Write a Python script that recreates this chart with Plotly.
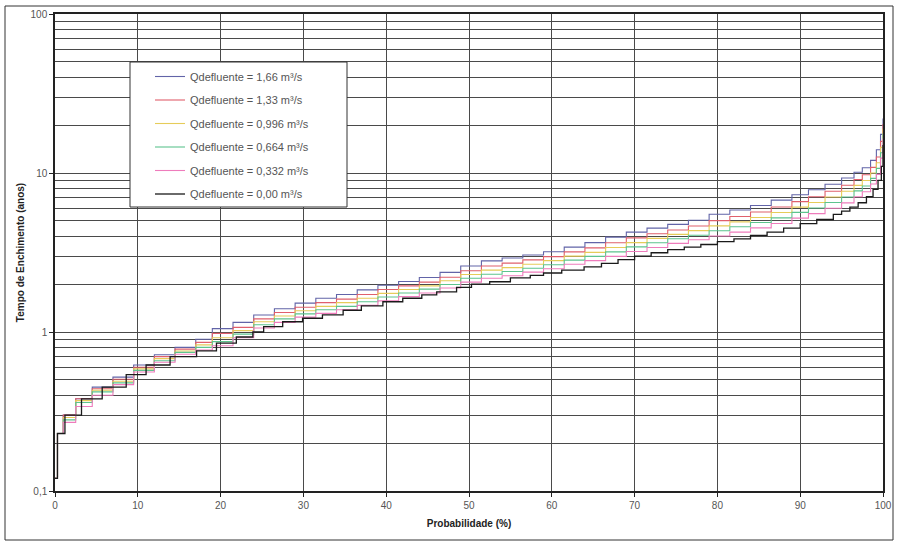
import plotly.graph_objects as go

# Probability of exceedance (%) for the discharge series
prob_q = [0, 0.3, 1, 2.5, 4.5, 7, 9.5, 12, 14.5, 17, 19, 21.5, 24, 26.5, 29, 31.5,
          34, 36.5, 39, 41.5, 44, 46.5, 49, 51.5, 54, 56.5, 59, 61.5, 64, 66.5, 69,
          71.5, 74, 76.5, 79, 81.5, 84, 86.5, 89, 91, 93, 95, 96.5, 97.5, 98.5,
          99.2, 99.7, 100]

# Filling time (years) for each outflow
t_166 = [0.12, 0.23, 0.30, 0.38, 0.45, 0.52, 0.62, 0.72, 0.80, 0.90, 1.05, 1.15, 1.28,
         1.40, 1.52, 1.63, 1.72, 1.84, 1.97, 2.08, 2.20, 2.37, 2.60, 2.80, 2.92, 3.05,
         3.20, 3.42, 3.65, 3.95, 4.25, 4.50, 4.75, 5.05, 5.50, 5.85, 6.25, 6.75, 7.30,
         7.85, 8.50, 9.30, 10.1, 10.8, 12.0, 14.0, 17.5, 22.0]
t_133 = [0.12, 0.23, 0.30, 0.38, 0.44, 0.504, 0.60, 0.70, 0.78, 0.86, 0.98, 1.07, 1.21,
         1.325, 1.43, 1.53, 1.61, 1.72, 1.85, 1.95, 2.06, 2.21, 2.43, 2.60, 2.71, 2.84,
         2.98, 3.19, 3.38, 3.64, 3.91, 4.15, 4.38, 4.64, 5.02, 5.33, 5.68, 6.11, 6.61,
         7.09, 7.67, 8.37, 9.10, 9.75, 10.85, 12.6, 15.8, 20.3]
t_0996 = [0.12, 0.23, 0.29, 0.37, 0.43, 0.49, 0.586, 0.68, 0.76, 0.83, 0.92, 1.02, 1.16,
          1.26, 1.36, 1.45, 1.53, 1.63, 1.75, 1.85, 1.95, 2.10, 2.30, 2.45, 2.54, 2.67,
          2.81, 3.00, 3.17, 3.40, 3.65, 3.88, 4.11, 4.34, 4.65, 4.93, 5.25, 5.64, 6.10,
          6.53, 7.06, 7.68, 8.36, 8.98, 9.99, 11.6, 14.5, 19.0]
t_0664 = [0.12, 0.23, 0.28, 0.36, 0.42, 0.479, 0.574, 0.66, 0.745, 0.80, 0.87, 0.97, 1.11,
          1.21, 1.30, 1.38, 1.45, 1.55, 1.66, 1.76, 1.86, 1.99, 2.18, 2.31, 2.40, 2.52,
          2.65, 2.83, 2.99, 3.19, 3.43, 3.64, 3.86, 4.06, 4.33, 4.59, 4.88, 5.22, 5.65,
          6.03, 6.52, 7.07, 7.72, 8.29, 9.25, 10.7, 13.4, 17.7]
t_0332 = [0.12, 0.23, 0.27, 0.34, 0.40, 0.467, 0.56, 0.645, 0.725, 0.77, 0.82, 0.92, 1.06,
          1.15, 1.24, 1.31, 1.38, 1.47, 1.57, 1.67, 1.76, 1.89, 2.06, 2.18, 2.26, 2.38,
          2.50, 2.67, 2.81, 2.99, 3.21, 3.40, 3.61, 3.80, 4.02, 4.25, 4.52, 4.81, 5.20,
          5.55, 6.00, 6.49, 7.09, 7.63, 8.52, 9.8, 12.4, 16.5]

# Zero outflow series has its own step positions
prob_0 = [0, 0.3, 1.2, 3.2, 5.7, 8.6, 11, 13.9, 17.1, 19.5, 21.9, 23.9, 25.2, 27.5, 29.9,
          32.3, 34.8, 37, 39.6, 42, 44.3, 46.1, 48.5, 50.3, 52.5, 55, 57.4, 59, 61.2,
          63.9, 66, 68, 70, 72, 74, 76, 78, 80, 82, 84, 86, 88, 90, 92, 94, 95, 96, 97,
          98, 98.8, 99.4, 99.8, 100]
t_000 = [0.12, 0.23, 0.30, 0.38, 0.45, 0.54, 0.62, 0.70, 0.76, 0.85, 0.93, 1.0, 1.08,
         1.16, 1.22, 1.28, 1.37, 1.46, 1.55, 1.63, 1.71, 1.79, 1.91, 2.0, 2.07, 2.19,
         2.27, 2.35, 2.45, 2.57, 2.7, 2.85, 3.0, 3.15, 3.3, 3.42, 3.55, 3.7, 3.85, 4.05,
         4.25, 4.5, 4.8, 5.1, 5.5, 5.75, 6.1, 6.5, 7.1, 7.9, 9.0, 11.0, 15.0]

names = ["Qdefluente = 1,66 m³/s", "Qdefluente = 1,33 m³/s", "Qdefluente = 0,996 m³/s",
         "Qdefluente = 0,664 m³/s", "Qdefluente = 0,332 m³/s", "Qdefluente = 0,00 m³/s"]
colors = ["#6264a8", "#e0606c", "#e6cc5a", "#5ec48e", "#ee7cbc", "#1a1a1a"]

x_ticks = list(range(0, 101, 10))
y_ticks = [0.1, 1, 10, 100]
y_tick_text = ["0,1", "1", "10", "100"]

series = [(prob_q, t_166), (prob_q, t_133), (prob_q, t_0996),
          (prob_q, t_0664), (prob_q, t_0332), (prob_0, t_000)]

fig = go.Figure()
for i, ((xs, ys), nm, col) in enumerate(zip(series, names, colors)):
    fig.add_trace(go.Scatter(
        x=xs, y=ys, mode="lines", name=nm, legendgroup=f"g{i}",
        line=dict(color=col, width=1.3 if i == 5 else 1.1, shape="hv"),
    ))

grid_col = "#4a4a4a"
PW, PH = 828, 477  # plot area size in px
fig.update_layout(
    width=899, height=549,
    margin=dict(l=55, r=16, t=14, b=58, autoexpand=False),
    paper_bgcolor="white", plot_bgcolor="white",
    font=dict(family="Liberation Sans, Arial, sans-serif", size=10, color="#555"),
    showlegend=True,
    legend=dict(
        x=(150 - 55) / PW, y=1 - (62 - 14) / PH, xanchor="left", yanchor="top",
        bgcolor="rgba(0,0,0,0)", borderwidth=0,
        font=dict(size=11, color="#555"),
        tracegroupgap=4.5, itemwidth=30,
    ),
    xaxis=dict(
        range=[0, 100], tickvals=x_ticks, ticktext=[str(v) for v in x_ticks],
        showgrid=True, gridcolor=grid_col, gridwidth=1,
        showline=True, linecolor="#222", linewidth=1.5, mirror=True,
        ticks="outside", ticklen=4, tickcolor="#222",
        zeroline=False, automargin=False,
        title=dict(text="<b>Probabilidade (%)</b>", font=dict(size=10, color="#222"), standoff=10),
    ),
    yaxis=dict(
        type="log", range=[-1, 2], tickvals=y_ticks, ticktext=y_tick_text,
        showgrid=True, gridcolor=grid_col, gridwidth=1,
        minor=dict(showgrid=True, gridcolor=grid_col, gridwidth=1,
                   tickvals=[m * 10 ** d for d in (-1, 0, 1) for m in range(2, 10)]),
        showline=True, linecolor="#222", linewidth=1.5, mirror=True,
        ticks="outside", ticklen=4, tickcolor="#222",
        zeroline=False, automargin=False,
        title=dict(text="<b>Tempo de Enchimento (anos)</b>", font=dict(size=10, color="#222"), standoff=4),
    ),
)

# Legend frame
fig.add_shape(type="rect", xref="paper", yref="paper",
              x0=(130 - 55) / PW, x1=(347 - 55) / PW,
              y0=1 - (207 - 14) / PH, y1=1 - (62 - 14) / PH,
              line=dict(color="#333", width=1), fillcolor="white", layer="above")

# Outer frame of the chart area
fig.add_shape(type="rect", xref="paper", yref="paper",
              x0=-50 / PW, x1=1 + 10 / PW, y0=-49 / PH, y1=1 + 8 / PH,
              line=dict(color="#333", width=1), fillcolor="rgba(0,0,0,0)", layer="below")

fig.write_html("out.html")
